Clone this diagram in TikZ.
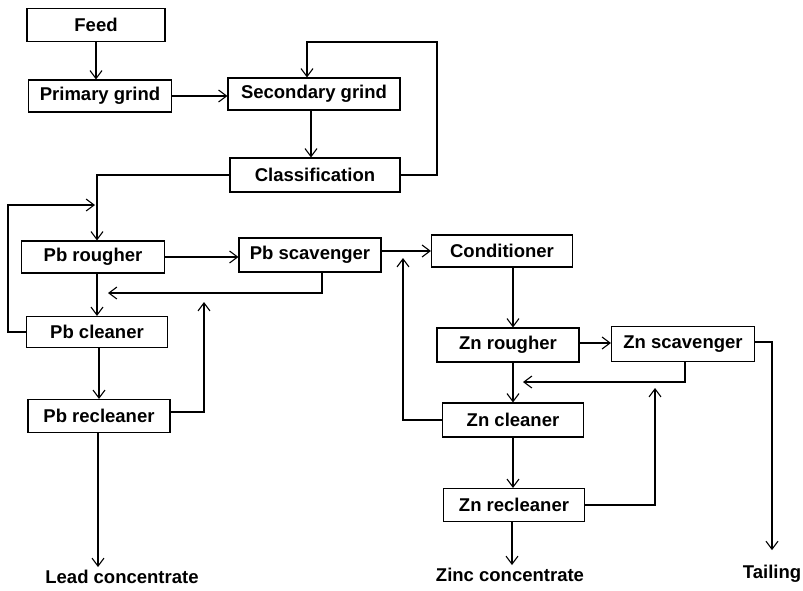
\documentclass[tikz,border=0pt]{standalone}
\usepackage{fontspec}
\setmainfont{Liberation Sans}
\usepackage{tikz}
\usetikzlibrary{arrows.meta, positioning, calc}
\tikzset{
	process/.style  ={rectangle, draw=black, line width=1.1pt, minimum height=33pt, inner sep=2pt, align=center, font=\fontsize{18.5}{22}\selectfont\bfseries},
	product/.style  ={inner sep=3pt, font=\fontsize{18.5}{22}\selectfont\bfseries},
	flowarrow/.style={-{Straight Barb[length=8pt, width=12pt]}, line width=1.1pt},
}

\begin{document}
\begin{tikzpicture}[x=1pt, y=-1pt]
	\useasboundingbox (0,0) rectangle (803,590);
	% grinding circuit
	\node[process, minimum width=138pt] (feed) at (96,25) {Feed};
	\node[process, minimum width=143pt, minimum height=32pt] (pgrind) at (100,96) {Primary grind};
	\node[process, minimum width=172pt, minimum height=32pt] (sgrind) at (314,94) {Secondary grind};
	\node[process, minimum width=170pt, minimum height=34pt] (classif) at (315,175) {Classification};
	% lead flotation
	\node[process, minimum width=143pt, minimum height=32pt] (pbrough) at (93,257) {Pb rougher};
	\node[process, minimum width=142pt, minimum height=34pt] (pbscav) at (310,255) {Pb scavenger};
	\node[process, minimum width=141pt, minimum height=31pt] (pbclean) at (97,332) {Pb cleaner};
	\node[process, minimum width=142pt] (pbreclean) at (99,416) {Pb recleaner};
	% zinc flotation
	\node[process, minimum width=141pt, minimum height=32pt] (cond) at (502,251) {Conditioner};
	\node[process, minimum width=142pt, minimum height=34pt] (znrough) at (508,345) {Zn rougher};
	\node[process, minimum width=143pt, minimum height=35pt] (znscav) at (683,344) {Zn scavenger};
	\node[process, minimum width=141pt, minimum height=34pt] (znclean) at (513,420) {Zn cleaner};
	\node[process, minimum width=141pt] (znreclean) at (514,505) {Zn recleaner};
	% products
	\node[product] (lead) at (122,577) {Lead concentrate};
	\node[product] (zinc) at (510,575) {Zinc concentrate};
	\node[product] (tail) at (772,574) {Tailing};
	% bend points
	\coordinate (sgtop) at (437,42);
	\coordinate (pbloop) at (8,205);
	\coordinate (pbin) at (95,205);
	\coordinate (pbret) at (108,293);
	\coordinate (pbup) at (204,302);
	\coordinate (znup) at (403,258);
	\coordinate (znret) at (523,382);
	\coordinate (znret2) at (655,388);

	\draw[flowarrow] (feed.south) -- (feed.south |- pgrind.north);
	\draw[flowarrow] (pgrind.east) -- (pgrind.east -| sgrind.west);
	\draw[flowarrow] ([xshift=-3pt]sgrind.south) -- ([xshift=-3pt]sgrind.south |- classif.north);
	\draw[flowarrow] (classif.east) -| (sgtop) -| ([xshift=-7pt]sgrind.north);
	\draw[flowarrow] (classif.west) -| ([xshift=4pt]pbrough.north);
	\draw[flowarrow] (pbclean.west) -| (pbloop) -- (pbin);
	\draw[flowarrow] (pbrough.east) -- (pbrough.east -| pbscav.west);
	\draw[flowarrow] ([xshift=12pt]pbscav.south) |- (pbret);
	\draw[flowarrow] ([xshift=4pt]pbrough.south) -- ([xshift=4pt]pbrough.south |- pbclean.north);
	\draw[flowarrow] ([xshift=2pt]pbclean.south) -- ([xshift=2pt]pbclean.south |- pbreclean.north);
	\draw[flowarrow] ([yshift=4pt]pbreclean.east) -| (pbup);
	\draw[flowarrow] ([xshift=-1pt]pbreclean.south) -- ([xshift=-1pt]pbreclean.south |- lead.north);
	\draw[flowarrow] (cond.west -| pbscav.east) -- (cond.west);
	\draw[flowarrow] (znclean.west) -| (znup);
	\draw[flowarrow] ([xshift=11pt]cond.south) -- ([xshift=11pt]cond.south |- znrough.north);
	\draw[flowarrow] ([yshift=2pt]znrough.east) -- ([yshift=2pt]znrough.east -| znscav.west);
	\draw[flowarrow] ([yshift=2pt]znscav.east) -| ([yshift=12pt]tail.north);
	\draw[flowarrow] ([xshift=2pt]znscav.south) |- (znret);
	\draw[flowarrow] ([xshift=5pt]znrough.south) -- ([xshift=5pt]znrough.south |- znclean.north);
	\draw[flowarrow] (znclean.south) -- (znclean.south |- znreclean.north);
	\draw[flowarrow] (znreclean.east) -| (znret2);
	\draw[flowarrow] ([xshift=-2pt]znreclean.south) -- ([xshift=-2pt]znreclean.south |- zinc.north);
\end{tikzpicture}
\end{document}
